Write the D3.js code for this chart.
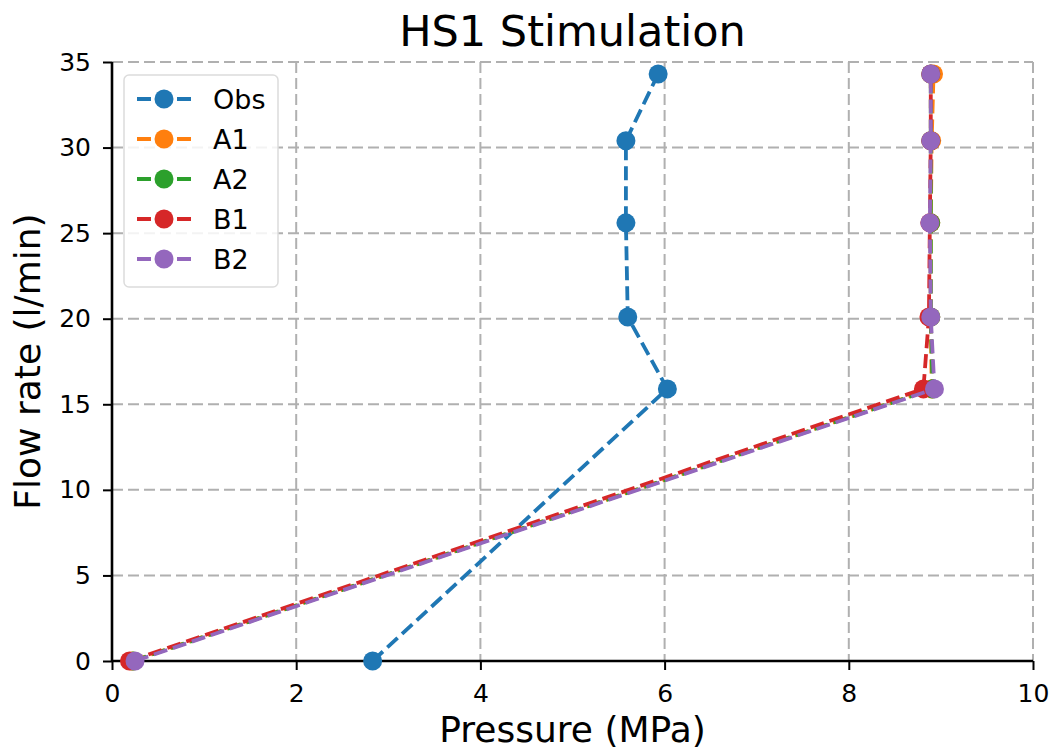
<!DOCTYPE html>
<html><head><meta charset="utf-8">
<script src="https://cdn.jsdelivr.net/npm/d3@7"></script>
<style>body{margin:0;background:#fff;} text{font-family:"DejaVu Sans",sans-serif;}</style>
</head><body>
<svg id="c" width="1054" height="749"></svg>
<script>
const flow = [0, 15.9, 20.1, 25.6, 30.4, 34.3];
const obs = [2.83, 6.03, 5.60, 5.58, 5.58, 5.93];
const a1 = [0.22, 8.90, 8.89, 8.89, 8.90, 8.92];
const a2 = [0.23, 8.91, 8.89, 8.89, 8.89, 8.89];
const b1 = [0.19, 8.81, 8.87, 8.88, 8.89, 8.89];
const b2 = [0.25, 8.93, 8.89, 8.88, 8.89, 8.89];
const seriesNames = ["Obs", "A1", "A2", "B1", "B2"];
const seriesColors = ["#1f77b4", "#ff7f0e", "#2ca02c", "#d62728", "#9467bd"];
const xTicks = [0, 2, 4, 6, 8, 10];
const yTicks = [0, 5, 10, 15, 20, 25, 30, 35];

const series = [obs, a1, a2, b1, b2];
const svg = d3.select("#c");
const L = 112, R = 1033, T = 62, B = 661;
const x = d3.scaleLinear().domain([0, 10]).range([L, R]);
const y = d3.scaleLinear().domain([0, 35]).range([B, T]);

// grid
const g = svg.append("g");
g.selectAll(".vx").data(xTicks.slice(1)).join("line")
  .attr("x1", d => x(d)).attr("x2", d => x(d)).attr("y1", T).attr("y2", B)
  .attr("stroke", "#b0b0b0").attr("stroke-width", 2).attr("stroke-dasharray", "11,5");
g.selectAll(".hy").data(yTicks.slice(1)).join("line")
  .attr("x1", L).attr("x2", R).attr("y1", d => y(d)).attr("y2", d => y(d))
  .attr("stroke", "#b0b0b0").attr("stroke-width", 2).attr("stroke-dasharray", "11,5");

// axes
const xa = svg.append("g").attr("transform", `translate(0,${B})`)
  .call(d3.axisBottom(x).tickValues(xTicks).tickFormat(d3.format("d")).tickSize(9).tickPadding(14));
const ya = svg.append("g").attr("transform", `translate(${L},0)`)
  .call(d3.axisLeft(y).tickValues(yTicks).tickFormat(d3.format("d")).tickSize(9).tickPadding(12));
[xa, ya].forEach(a => {
  a.selectAll("path").attr("stroke", "#000").attr("stroke-width", 2.6);
  a.selectAll("line").attr("stroke", "#000").attr("stroke-width", 2);
  a.selectAll("text").attr("font-size", 25).attr("fill", "#000").attr("font-family", "DejaVu Sans");
});
xa.select("path").attr("d", `M${L},0H${R}`);
ya.select("path").attr("d", `M0,${B}V${T}`);

// lines
const line = d3.line().x(d => x(d[0])).y(d => y(d[1]));
series.forEach((s, i) => {
  const pts = s.map((p, k) => [p, flow[k]]);
  svg.append("path").datum(pts).attr("d", line)
    .attr("fill", "none").attr("stroke", seriesColors[i]).attr("stroke-width", 3.8)
    .attr("stroke-dasharray", "14,6");
  svg.append("g").selectAll("circle").data(pts).join("circle")
    .attr("cx", d => x(d[0])).attr("cy", d => y(d[1])).attr("r", 9.5)
    .attr("fill", seriesColors[i]);
});

// title & labels
svg.append("text").attr("x", (L + R) / 2).attr("y", 46).attr("text-anchor", "middle")
  .attr("font-size", 43).text("HS1 Stimulation");
svg.append("text").attr("x", (L + R) / 2).attr("y", 742).attr("text-anchor", "middle")
  .attr("font-size", 36).text("Pressure (MPa)");
svg.append("text").attr("transform", `translate(40,${(T + B) / 2}) rotate(-90)`).attr("text-anchor", "middle")
  .attr("font-size", 36).text("Flow rate (l/min)");

// legend
const lg = svg.append("g");
lg.append("rect").attr("x", 124).attr("y", 75).attr("width", 154).attr("height", 212)
  .attr("rx", 5).attr("fill", "#fff").attr("fill-opacity", 0.85).attr("stroke", "#dcdcdc").attr("stroke-width", 1.5);
seriesNames.forEach((n, i) => {
  const yy = 99 + i * 40;
  lg.append("line").attr("x1", 137).attr("x2", 191).attr("y1", yy).attr("y2", yy)
    .attr("stroke", seriesColors[i]).attr("stroke-width", 3.8).attr("stroke-dasharray", "14,6");
  lg.append("circle").attr("cx", 164).attr("cy", yy).attr("r", 9.5).attr("fill", seriesColors[i]);
  lg.append("text").attr("x", 213).attr("y", yy + 9.8).attr("font-size", 27).text(n);
});
</script>
</body></html>
